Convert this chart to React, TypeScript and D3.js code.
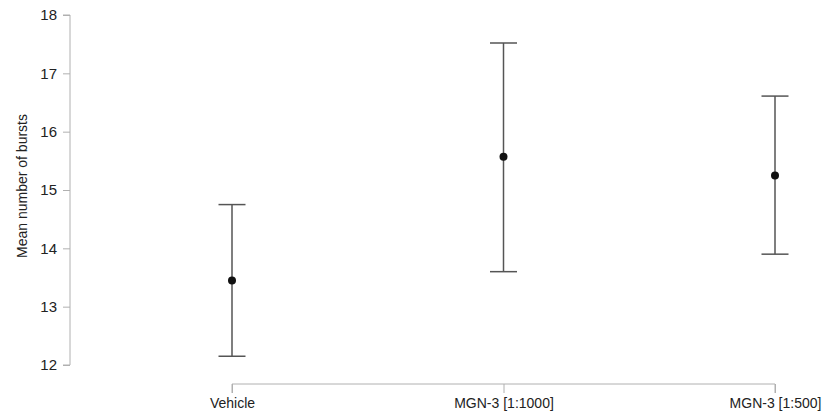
import React from 'react';
import * as d3 from 'd3';

const groups = ['Vehicle', 'MGN-3 [1:1000]', 'MGN-3 [1:500]'];
const means = [13.45, 15.57, 15.25];
const lower = [12.15, 13.6, 13.9];
const upper = [14.75, 17.52, 16.61];
const yTicks = [12, 13, 14, 15, 16, 17, 18];

const App = () => {
  const svgRef = React.useRef<SVGSVGElement>(null);

  const width = 828;
  const height = 412;

  React.useEffect(() => {
    const svg = d3.select(svgRef.current);
    svg.selectAll('*').remove();

    const font = 'Liberation Sans, Arial, Helvetica, sans-serif';

    const x = d3.scalePoint<string>()
      .domain(groups)
      .range([232, 775]);

    const y = d3.scaleLinear()
      .domain([12, 18])
      .range([365, 15]);

    // Y axis
    const yAxis = svg.append('g')
      .attr('transform', 'translate(70,0)')
      .call(d3.axisLeft(y).tickValues(yTicks).tickSize(7).tickPadding(6).tickFormat(d3.format('d')));
    yAxis.select('.domain').attr('stroke', '#b0b0b0').attr('d', `M-7,${y(18)}H0V${y(12)}H-7`);
    yAxis.selectAll('.tick line').attr('stroke', '#b0b0b0');
    yAxis.selectAll('.tick text')
      .attr('font-family', font)
      .attr('font-size', 15)
      .attr('fill', '#222');

    // X axis
    const xAxis = svg.append('g')
      .attr('transform', 'translate(0,384)')
      .call(d3.axisBottom(x).tickSize(9).tickPadding(5));
    xAxis.select('.domain').attr('stroke', '#b0b0b0').attr('d', `M${x(groups[0])},9V0H${x(groups[2])}V9`);
    xAxis.selectAll('.tick line').attr('stroke', '#b0b0b0');
    xAxis.selectAll('.tick text')
      .attr('font-family', font)
      .attr('font-size', 14)
      .attr('fill', '#222');

    // Y label
    svg.append('text')
      .attr('transform', `translate(27,${(y(12) + y(18)) / 2 - 4}) rotate(-90)`)
      .attr('text-anchor', 'middle')
      .attr('font-family', font)
      .attr('font-size', 14)
      .attr('fill', '#222')
      .text('Mean number of bursts');

    const capHalf = 13.5;
    const bars = svg.append('g');
    groups.forEach((g, i) => {
      const cx = x(g) as number;
      bars.append('line')
        .attr('x1', cx).attr('x2', cx)
        .attr('y1', y(lower[i])).attr('y2', y(upper[i]))
        .attr('stroke', '#555').attr('stroke-width', 1.5);
      [lower[i], upper[i]].forEach((v) => {
        bars.append('line')
          .attr('x1', cx - capHalf).attr('x2', cx + capHalf)
          .attr('y1', y(v)).attr('y2', y(v))
          .attr('stroke', '#555').attr('stroke-width', 1.5);
      });
      bars.append('circle')
        .attr('cx', cx)
        .attr('cy', y(means[i]))
        .attr('r', 4)
        .attr('fill', '#111');
    });
  }, []);

  return (
    <svg
      ref={svgRef}
      width={width}
      height={height}
      style={{ position: 'absolute', left: 0, top: 0, background: '#fff' }}
    />
  );
};

export default App;
